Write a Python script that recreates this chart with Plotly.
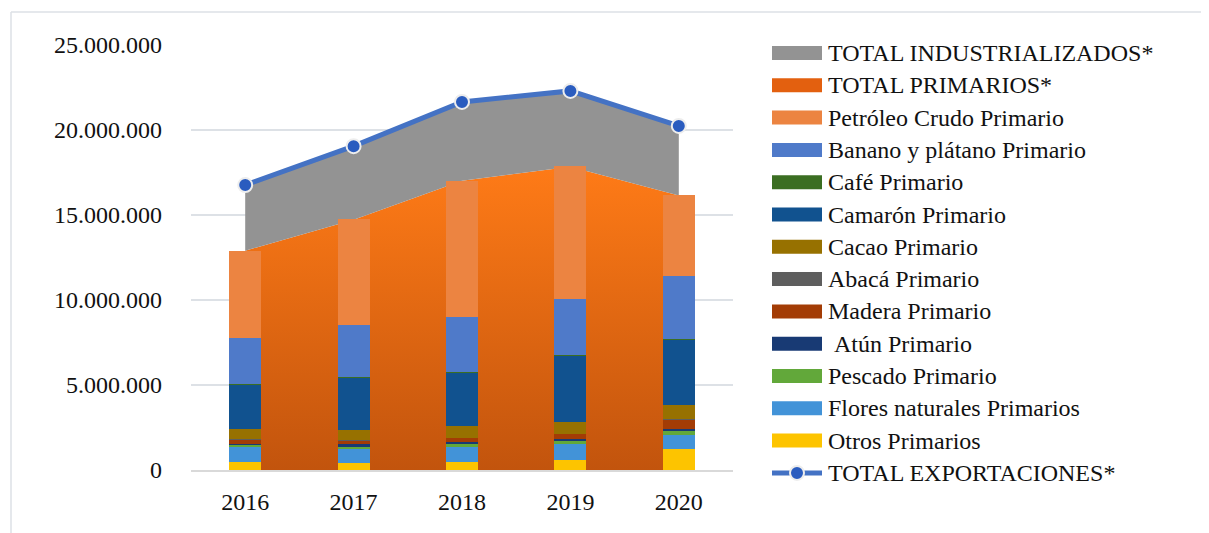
import plotly.graph_objects as go

# exportaciones (miles USD FOB)
years = ["2016", "2017", "2018", "2019", "2020"]

otros = [470000, 410000, 470000, 590000, 1240000]
flores = [860000, 820000, 880000, 960000, 820000]
pescado = [160000, 180000, 180000, 160000, 290000]
atun = [60000, 100000, 120000, 120000, 60000]
madera = [240000, 220000, 240000, 290000, 550000]
abaca = [30000, 20000, 20000, 20000, 20000]
cacao = [610000, 630000, 670000, 710000, 860000]
camaron = [2590000, 3060000, 3180000, 3880000, 3820000]
cafe = [60000, 20000, 20000, 20000, 20000]
banano = [2700000, 3080000, 3240000, 3310000, 3710000]
petroleo = [5100000, 6200000, 8000000, 7800000, 4760000]

total_primarios = [12900000, 14720000, 17010000, 17840000, 16140000]
total_industrializados = [3860000, 4330000, 4640000, 4460000, 4100000]
total_exportaciones = [16760000, 19050000, 21650000, 22300000, 20240000]

# stacked from bottom to top
bar_series = [
    ("Otros Primarios", otros, "#FDC400"),
    ("Flores naturales Primarios", flores, "#4293D8"),
    ("Pescado Primario", pescado, "#62A83A"),
    ("\u00a0Atún Primario", atun, "#183A74"),
    ("Madera Primario", madera, "#A33C05"),
    ("Abacá Primario", abaca, "#5E5E5E"),
    ("Cacao Primario", cacao, "#977100"),
    ("Camarón Primario", camaron, "#11528F"),
    ("Café Primario", cafe, "#3B6E22"),
    ("Banano y plátano Primario", banano, "#4F7AC9"),
    ("Petróleo Crudo Primario", petroleo, "#EC8441"),
]

FONT = "Liberation Serif, Times New Roman, serif"
W, H = 1209, 533
OFF = 8  # page body margin
L, T = 191 - OFF, 45 - OFF
pw, ph = 542, 425
R, B = W - L - pw, H - T - ph


# page pixel -> paper coords
def xp(px):
    return (px - OFF - L) / pw


def yp(py):
    return (T + ph - (py - OFF)) / ph


fig = go.Figure()

# areas on the base axes (drawn underneath the bars)
fig.add_trace(go.Scatter(
    x=years, y=total_primarios, name="TOTAL PRIMARIOS*", mode="none",
    fill="tozeroy",
    fillgradient=dict(type="vertical", start=0, stop=18000000,
                      colorscale=[[0, "#C2540D"], [1, "#FF7B17"]]),
    showlegend=False, hoverinfo="skip",
))
fig.add_trace(go.Scatter(
    x=years, y=[p + i for p, i in zip(total_primarios, total_industrializados)],
    name="TOTAL INDUSTRIALIZADOS*", mode="none",
    fill="tonexty", fillcolor="#939393",
    showlegend=False, hoverinfo="skip",
))

# bars on an overlaid axis so they sit above the areas
for name, vals, col in bar_series:
    fig.add_trace(go.Bar(
        x=years, y=vals, name=name, marker_color=col, marker_line_width=0,
        width=0.295, xaxis="x2", yaxis="y2", showlegend=False,
    ))

fig.add_trace(go.Scatter(
    x=years, y=total_exportaciones, name="TOTAL EXPORTACIONES*",
    mode="lines+markers", line=dict(color="#4472C4", width=5),
    marker=dict(size=14, color="#2A5CBF", line=dict(color="#EDEDED", width=2)),
    xaxis="x2", yaxis="y2", showlegend=False,
))

# legend drawn by hand (wide Excel-style swatches)
legend_items = [
    ("TOTAL INDUSTRIALIZADOS*", "#939393"),
    ("TOTAL PRIMARIOS*", "#E3600F"),
] + [(n, c) for n, _, c in reversed(bar_series)]

shapes = []
annotations = []
row0, step = 53, 32.3
for i, (name, col) in enumerate(legend_items):
    yc = row0 + i * step
    shapes.append(dict(type="rect", xref="paper", yref="paper",
                       x0=xp(772), x1=xp(822), y0=yp(yc - 7), y1=yp(yc + 7),
                       fillcolor=col, line_width=0))
    annotations.append(dict(text=name, xref="paper", yref="paper",
                            x=xp(826), y=yp(yc), xanchor="left", yanchor="middle",
                            showarrow=False, font=dict(family=FONT, size=24, color="#111")))

yc = row0 + len(legend_items) * step
shapes.append(dict(type="line", xref="paper", yref="paper",
                   x0=xp(772), x1=xp(822), y0=yp(yc), y1=yp(yc),
                   line=dict(color="#4472C4", width=5)))
shapes.append(dict(type="circle", xref="paper", yref="paper",
                   xsizemode="pixel", ysizemode="pixel",
                   xanchor=xp(797), yanchor=yp(yc), x0=-7, x1=7, y0=-7, y1=7,
                   fillcolor="#2A5CBF", line=dict(color="#EDEDED", width=2)))
annotations.append(dict(text="TOTAL EXPORTACIONES*", xref="paper", yref="paper",
                        x=xp(826), y=yp(yc), xanchor="left", yanchor="middle",
                        showarrow=False, font=dict(family=FONT, size=24, color="#111")))

# chart frame (top and left edges)
shapes.append(dict(type="line", xref="paper", yref="paper", x0=xp(11), x1=xp(W + OFF),
                   y0=yp(12), y1=yp(12), line=dict(color="#DDE1E6", width=1.5)))
shapes.append(dict(type="line", xref="paper", yref="paper", x0=xp(11), x1=xp(11),
                   y0=yp(12), y1=yp(H + OFF), line=dict(color="#DDE1E6", width=1.5)))

fig.update_layout(
    width=W, height=H,
    margin=dict(l=L, r=R, t=T, b=B),
    paper_bgcolor="white", plot_bgcolor="white",
    barmode="stack", separators=",.",
    font=dict(family=FONT, size=24, color="#111"),
    showlegend=False,
    shapes=shapes, annotations=annotations,
    xaxis=dict(type="category", range=[-0.5, 4.5], showgrid=False,
               showline=True, linecolor="#D9D9D9", linewidth=2,
               ticks="", ticklabelstandoff=9, tickfont=dict(size=24)),
    xaxis2=dict(type="category", range=[-0.5, 4.5], overlaying="x",
                visible=False),
    yaxis=dict(range=[0, 25000000], dtick=5000000, tickformat=",d",
               showgrid=True, gridcolor="#DDE1E6", gridwidth=1.5,
               zeroline=False, ticks="", ticklabelstandoff=28,
               tickfont=dict(size=24)),
    yaxis2=dict(range=[0, 25000000], overlaying="y", visible=False),
)

fig.write_html("out.html")
